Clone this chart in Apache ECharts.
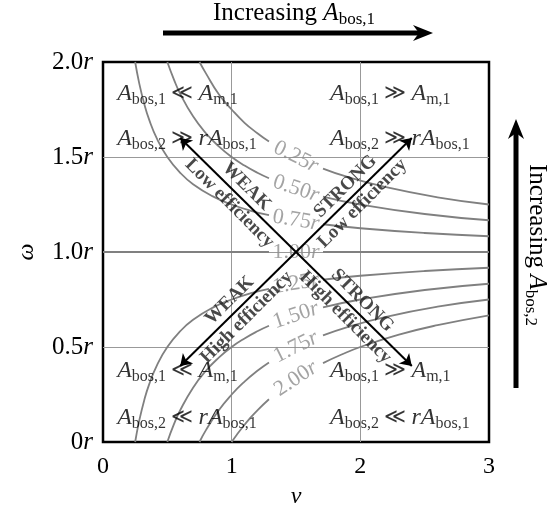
<!DOCTYPE html>
<html><head><meta charset="utf-8">
<script src="https://cdn.jsdelivr.net/npm/echarts@6/dist/echarts.min.js"></script>
<style>html,body{margin:0;padding:0;background:#fff}#c{width:550px;height:514px}</style>
</head><body><div id="c"></div>
<script>
// ---- data ----
const xTicks = ['0', '1', '2', '3'];
const yTicks = ['0r', '0.5r', '1.0r', '1.5r', '2.0r'];
const curveNames = ['0.25r', '0.50r', '0.75r', '1.00r', '1.25r', '1.50r', '1.75r', '2.00r'];

const curve025 = [[0.75,2.0],[0.8,1.94],[0.9,1.83],[1.0,1.75],[1.1,1.68],[1.2,1.625],[1.29,1.581],[1.5,'-'],[1.71,1.439],[1.9,1.395],[2.2,1.341],[2.6,1.288],[3.0,1.25]];
const curve050 = [[0.5,2.0],[0.55,1.91],[0.6,1.833],[0.7,1.714],[0.8,1.625],[0.9,1.556],[1.0,1.5],[1.1,1.455],[1.2,1.417],[1.29,1.388],[1.5,'-'],[1.71,1.292],[2.0,1.25],[2.5,1.2],[3.0,1.167]];
const curve075 = [[0.25,2.0],[0.28,1.893],[0.32,1.781],[0.36,1.694],[0.42,1.595],[0.5,1.5],[0.6,1.417],[0.7,1.357],[0.85,1.294],[1.0,1.25],[1.15,1.217],[1.29,1.194],[1.5,'-'],[1.71,1.146],[2.0,1.125],[2.5,1.1],[3.0,1.083]];
const curve100 = [[0,1],[1.29,1],[1.5,'-'],[1.71,1],[3,1]];
const curve125 = [[0.25,0],[0.28,0.107],[0.32,0.219],[0.36,0.306],[0.42,0.405],[0.5,0.5],[0.6,0.583],[0.7,0.643],[0.85,0.706],[1.0,0.75],[1.15,0.783],[1.29,0.806],[1.5,'-'],[1.71,0.854],[2.0,0.875],[2.5,0.9],[3.0,0.917]];
const curve150 = [[0.5,0],[0.55,0.091],[0.6,0.167],[0.7,0.286],[0.8,0.375],[0.9,0.444],[1.0,0.5],[1.1,0.545],[1.2,0.583],[1.29,0.612],[1.5,'-'],[1.71,0.708],[2.0,0.75],[2.5,0.8],[3.0,0.833]];
const curve175 = [[0.75,0],[0.8,0.0625],[0.9,0.167],[1.0,0.25],[1.1,0.318],[1.2,0.375],[1.29,0.419],[1.5,'-'],[1.71,0.561],[1.9,0.605],[2.2,0.659],[2.6,0.712],[3.0,0.75]];
const curve200 = [[1.0,0],[1.04,0.038],[1.08,0.074],[1.14,0.123],[1.2,0.167],[1.29,0.225],[1.5,'-'],[1.71,0.415],[1.85,0.459],[2.0,0.5],[2.3,0.565],[2.6,0.615],[3.0,0.667]];

// curve label anchors (on each curve at nu = 1.5)
const curveLabelNu = 1.5;
const curveLabelOmega = [1.5, 1.333, 1.167, 1.0, 0.833, 0.667, 0.5, 0.333];

// quadrant annotations
const quadrantTexts = [
  '{a|A}{s|bos,1}{o| ≪ }{a|A}{s|m,1}',
  '{a|A}{s|bos,2}{o| ≫ }{a|rA}{s|bos,1}',
  '{a|A}{s|bos,1}{o| ≫ }{a|A}{s|m,1}',
  '{a|A}{s|bos,2}{o| ≫ }{a|rA}{s|bos,1}',
  '{a|A}{s|bos,1}{o| ≪ }{a|A}{s|m,1}',
  '{a|A}{s|bos,2}{o| ≪ }{a|rA}{s|bos,1}',
  '{a|A}{s|bos,1}{o| ≫ }{a|A}{s|m,1}',
  '{a|A}{s|bos,2}{o| ≪ }{a|rA}{s|bos,1}'
];
const quadrantNu = [0.11, 0.11, 1.765, 1.765, 0.11, 0.11, 1.765, 1.765];
const quadrantOmega = [1.835, 1.595, 1.835, 1.595, 0.376, 0.13, 0.376, 0.13];

// regime arrows
const arrowCenter = [1.5, 1.0];
const arrowTips = [[0.6, 1.6], [2.4, 1.6], [0.6, 0.4], [2.4, 0.4]];
const armTop = ['WEAK', 'STRONG', 'WEAK', 'STRONG'];
const armBottom = ['Low efficiency', 'Low efficiency', 'High efficiency', 'High efficiency'];
const armLabelPos = [[1.05, 1.3], [1.95, 1.3], [1.05, 0.7], [1.95, 0.7]];

// ---- styles ----
const SERIF = '"Liberation Serif", "DejaVu Serif", serif';
const curveLabelAngles = [-26.4, -18.3, -9.4, 0, 9.4, 18.3, 26.4, 33.5];
const armAngles = [-45, 45, 45, -45];

const chart = echarts.init(document.getElementById('c'), null, {renderer: 'canvas'});

const series = [];
[curve025, curve050, curve075, curve100, curve125, curve150, curve175, curve200].forEach(d => {
  series.push({
    type: 'line', data: d, showSymbol: false, smooth: 0.5,
    lineStyle: {color: '#808080', width: 1.8}, silent: true, z: 2, animation: false
  });
});

series.push({
  type: 'scatter', symbolSize: 0, z: 3, silent: true, animation: false,
  data: curveLabelOmega.map((w, i) => ({value: [curveLabelNu, w], label: {rotate: curveLabelAngles[i]}})),
  label: {
    show: true, position: 'inside',
    formatter: p => { const s = curveNames[p.dataIndex]; return '{n|' + s.slice(0, -1) + '}{r|r}'; },
    rich: {
      n: {fontFamily: SERIF, fontSize: 22, color: '#8c8c8c'},
      r: {fontFamily: SERIF, fontStyle: 'italic', fontSize: 22, color: '#8c8c8c'}
    }
  }
});

const quadRich = {
  a: {fontFamily: SERIF, fontStyle: 'italic', fontSize: 24, lineHeight: 28, color: '#000'},
  s: {fontFamily: SERIF, fontSize: 16, lineHeight: 17, verticalAlign: 'bottom', color: '#000'},
  o: {fontFamily: SERIF, fontSize: 21, lineHeight: 28, color: '#000'}
};
series.push({
  type: 'scatter', symbolSize: 0, z: 3, silent: true, animation: false,
  data: quadrantNu.map((n, i) => [n, quadrantOmega[i]]),
  label: {
    show: true, position: 'right', distance: 0, lineHeight: 28,
    formatter: p => quadrantTexts[p.dataIndex],
    rich: quadRich
  }
});

series.push({
  type: 'scatter', symbolSize: 0, z: 4, silent: true, animation: false,
  data: armLabelPos.map((p, i) => ({value: p, label: {rotate: armAngles[i]}})),
  label: {
    show: true, position: 'inside', lineHeight: 24, align: 'center',
    formatter: p => '{t|' + armTop[p.dataIndex] + '}\n{t|' + armBottom[p.dataIndex] + '}',
    rich: {t: {fontFamily: SERIF, fontSize: 19, fontWeight: 'bold', lineHeight: 24, color: '#1a1a1a', align: 'center'}}
  }
});

series.push({
  type: 'lines', coordinateSystem: 'cartesian2d', z: 5, silent: true, animation: false,
  symbol: ['none', 'arrow'], symbolSize: 11,
  lineStyle: {color: '#000', width: 2, opacity: 1, curveness: 0},
  data: arrowTips.map(t => ({coords: [arrowCenter, t]}))
});

const topRich = {
  t: {fontFamily: SERIF, fontSize: 25, lineHeight: 30, fill: '#000'},
  a: {fontFamily: SERIF, fontStyle: 'italic', fontSize: 25, lineHeight: 30, fill: '#000'},
  s: {fontFamily: SERIF, fontSize: 17, lineHeight: 18, verticalAlign: 'bottom', fill: '#000'}
};

chart.setOption({
  animation: false,
  backgroundColor: '#fff',
  grid: {left: 103, top: 62, width: 386, height: 383, show: true, borderColor: '#000', borderWidth: 2.5, backgroundColor: 'transparent'},
  xAxis: {
    type: 'value', min: 0, max: 3, interval: 1,
    axisLine: {show: false}, axisTick: {show: false},
    splitLine: {show: true, showMinLine: false, showMaxLine: false, lineStyle: {color: '#999', width: 1}},
    axisLabel: {margin: 13, formatter: v => xTicks[Math.round(v)], fontFamily: SERIF, fontSize: 24, color: '#000'},
    name: 'ν', nameLocation: 'middle', nameGap: 43,
    nameTextStyle: {fontFamily: SERIF, fontStyle: 'italic', fontSize: 24, color: '#000'}
  },
  yAxis: {
    type: 'value', min: 0, max: 2, interval: 0.5,
    axisLine: {show: false}, axisTick: {show: false},
    splitLine: {show: true, showMinLine: false, showMaxLine: false, lineStyle: {color: '#999', width: 1}},
    axisLabel: {
      margin: 10,
      formatter: v => { const s = yTicks[Math.round(v / 0.5)]; return '{n|' + s.slice(0, -1) + '}{r|r}'; },
      rich: {
        n: {fontFamily: SERIF, fontSize: 25, color: '#000'},
        r: {fontFamily: SERIF, fontStyle: 'italic', fontSize: 25, color: '#000'}
      }
    },
    name: 'ω', nameLocation: 'middle', nameGap: 64,
    nameTextStyle: {fontFamily: SERIF, fontStyle: 'italic', fontSize: 24, color: '#000'}
  },
  graphic: [
    {type: 'line', shape: {x1: 163, y1: 33, x2: 422, y2: 33}, style: {stroke: '#000', lineWidth: 5}},
    {type: 'polygon', shape: {points: [[433, 33], [413, 25], [419, 33], [413, 41]]}, style: {fill: '#000'}},
    {type: 'text', x: 294, y: 13, style: {text: '{t|Increasing }{a|A}{s|bos,1}', rich: topRich, align: 'center', verticalAlign: 'middle'}},
    {type: 'line', shape: {x1: 516, y1: 388, x2: 516, y2: 130}, style: {stroke: '#000', lineWidth: 5}},
    {type: 'polygon', shape: {points: [[516, 119], [508, 139], [516, 133], [524, 139]]}, style: {fill: '#000'}},
    {type: 'text', x: 537, y: 245, rotation: -Math.PI / 2, style: {text: '{t|Increasing }{a|A}{s|bos,2}', rich: topRich, align: 'center', verticalAlign: 'middle'}}
  ],
  series: series
});
</script>
</body></html>
